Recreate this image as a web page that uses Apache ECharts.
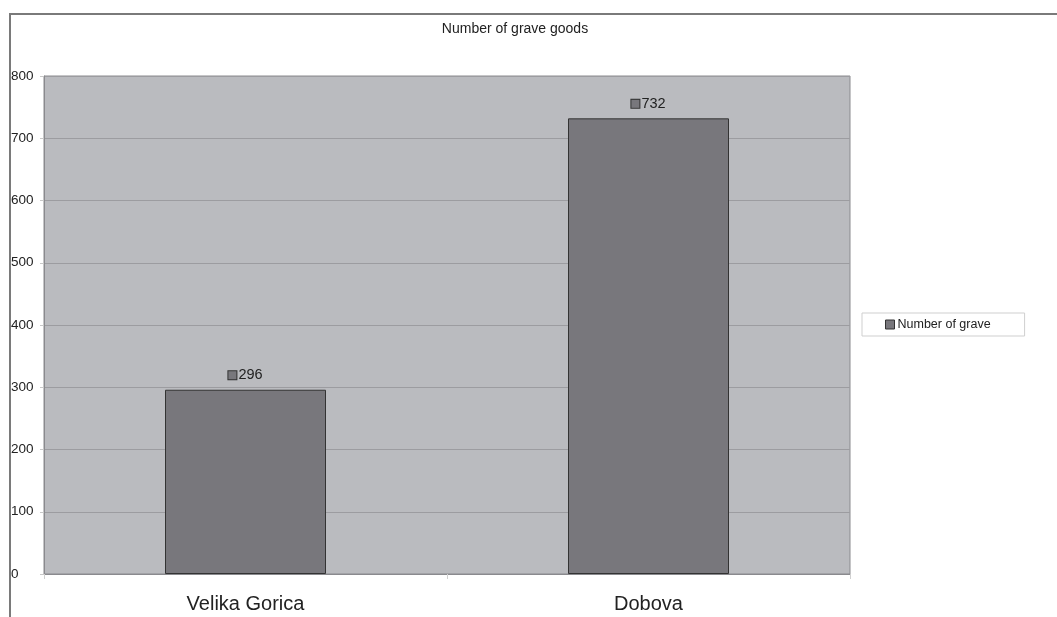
<!DOCTYPE html>
<html>
<head>
<meta charset="utf-8">
<script src="https://cdn.jsdelivr.net/npm/echarts@6/dist/echarts.min.js"></script>
<style>html,body{margin:0;padding:0;background:#fff}#c{width:1057px;height:617px}</style>
</head>
<body>
<div id="c"></div>
<script>
const categories = ["Velika Gorica", "Dobova"];
const values = [296, 732];
const seriesName = "Number of grave goods";
const legendText = "Number of grave";
const chartTitle = "Number of grave goods";

const chart = echarts.init(document.getElementById('c'), null, {renderer: 'canvas'});
const FONT = '"Liberation Sans", Arial, sans-serif';
chart.setOption({
  animation: false,
  backgroundColor: '#ffffff',
  textStyle: {fontFamily: FONT},
  title: {
    text: chartTitle,
    left: 510, top: 17, textAlign: 'center',
    textStyle: {fontSize: 14, fontWeight: 'normal', color: '#222', fontFamily: FONT}
  },
  graphic: [{
    type: 'rect', z: -1,
    shape: {x: 10, y: 14, width: 1200, height: 800},
    style: {fill: 'none', stroke: '#7a7a7a', lineWidth: 2}
  }],
  legend: {
    left: 862, top: 313,
    orient: 'vertical',
    backgroundColor: '#fff',
    borderColor: '#cfcfcf', borderWidth: 1, borderRadius: 0,
    padding: [5, 34, 5, 23],
    icon: 'rect', itemWidth: 9, itemHeight: 9, itemGap: 0,
    formatter: () => legendText,
    textStyle: {fontSize: 12.5, color: '#222', fontFamily: FONT, padding: [0, 0, 0, -2]},
    itemStyle: {color: '#78777c', borderColor: '#333', borderWidth: 1}
  },
  grid: {left: 44, top: 76, width: 806, height: 498, containLabel: false,
         show: true, backgroundColor: '#babbbf', borderColor: '#8a8a8e', borderWidth: 1},
  xAxis: {
    type: 'category', data: categories,
    axisLine: {show: true, lineStyle: {color: '#8a8a8e', width: 1}},
    axisTick: {show: true, length: 5, lineStyle: {color: '#d0d0d0'}},
    axisLabel: {fontSize: 20, color: '#222', margin: 20, fontFamily: FONT}
  },
  yAxis: {
    type: 'value', min: 0, max: 800, interval: 100,
    axisLine: {show: true, lineStyle: {color: '#8a8a8e', width: 1}},
    axisTick: {show: true, length: 4, lineStyle: {color: '#c8c8c8'}},
    axisLabel: {fontSize: 13.5, color: '#222', align: 'left', margin: 33, fontFamily: FONT},
    splitLine: {show: true, lineStyle: {color: '#9c9ca0', width: 1}}
  },
  series: [{
    name: seriesName, type: 'bar', data: values, barWidth: 161,
    itemStyle: {color: '#78777c', borderColor: '#333', borderWidth: 1},
    label: {
      show: true, position: 'top', distance: 7,
      formatter: p => '{s|}{t|' + p.value + '}',
      rich: {
        s: {width: 8, height: 8, backgroundColor: '#78777c', borderColor: '#333', borderWidth: 1},
        t: {fontSize: 14.5, color: '#222', padding: [0, 0, 0, 2], fontFamily: FONT}
      }
    }
  }]
});
</script>
</body>
</html>
